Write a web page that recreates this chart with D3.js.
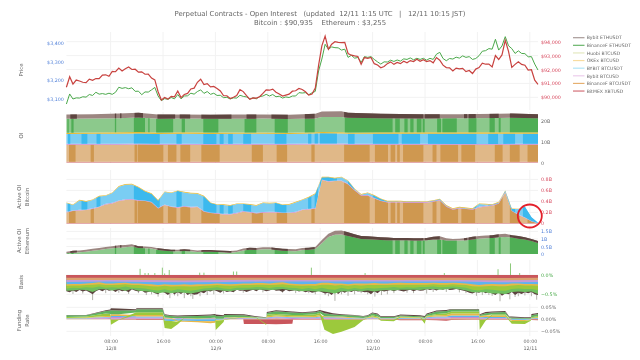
<!DOCTYPE html>
<html>
<head>
<meta charset="utf-8">
<script src="https://cdn.jsdelivr.net/npm/d3@7"></script>
<style>
  html, body { margin: 0; background: #fff; }
  svg { filter: blur(0.4px); }
  svg text { font-family: "DejaVu Sans", sans-serif; white-space: pre; }
</style>
</head>
<body>
<div id="chart"></div>
<script>
// ---- data. hour 0 = 12/8 01:15 JST, hour 72 = 12/11 01:15 JST ----

const legendNames = ["Bybit ETHUSDT", "BinanceF ETHUSDT", "Huobi BTCUSD", "OKEx BTCUSD",
    "BYBIT BTCUSDT", "Bybit BTCUSD", "BinanceF BTCUSDT", "BitMEX XBTUSD"];

const xTickHours = [6.75, 14.75, 22.75, 30.75, 38.75, 46.75, 54.75, 62.75, 70.75];
const xTickLabels = ["08:00", "16:00", "00:00", "08:00", "16:00", "00:00", "08:00", "16:00", "00:00"];
const xTickDates = ["12/8", "", "12/9", "", "", "12/10", "", "", "12/11"];

// half hourly
const btcPrice = [
    90720, 91480, 90950, 91240, 91170, 91080, 91050, 91310, 91220, 91350,
    91340, 91600, 91620, 91510, 91860, 91840, 92100, 91900, 92060, 92180,
    92000, 92020, 91810, 91830, 91660, 91670, 91380, 91250, 90400, 89800,
    89990, 89870, 90070, 90030, 90450, 89980, 90200, 90280, 90600, 90660,
    91080, 91300, 90920, 90980, 90750, 90780, 90640, 90460, 90110, 90110,
    89910, 90000, 90120, 90550, 90410, 90120, 89850, 89960, 89940, 90040,
    90280, 90540, 90510, 90590, 90370, 90240, 90090, 90160, 90230, 90440,
    90470, 90640, 90560, 90400, 90160, 90240, 90660, 92300, 93700, 94400,
    93460, 93820, 94000, 93950, 93930, 93950, 93150, 93030, 92980, 92940,
    92380, 92860, 92800, 92870, 92420, 92320, 92130, 92220, 92420, 92550,
    92370, 92510, 92420, 92600, 92480, 92640, 92570, 92740, 92590, 92700,
    92570, 92640, 92480, 92860, 92670, 92310, 92140, 92120, 91900, 92100,
    92040, 92080, 91850, 91930, 91710, 92030, 92140, 92450, 92380, 92390,
    92190, 93000, 92720, 93050, 94100, 93300, 92150, 92370, 92560, 92370,
    92310, 91950, 91980, 91230, 90935];

const ethPrice = [
    3073, 3127, 3100, 3106, 3105, 3112, 3110, 3124, 3119, 3136,
    3126, 3129, 3125, 3131, 3125, 3136, 3163, 3157, 3161, 3155,
    3160, 3141, 3142, 3123, 3138, 3137, 3149, 3162, 3116, 3091,
    3102, 3098, 3108, 3101, 3124, 3101, 3116, 3117, 3131, 3126,
    3140, 3149, 3130, 3140, 3125, 3131, 3119, 3120, 3107, 3109,
    3100, 3106, 3105, 3120, 3114, 3111, 3100, 3106, 3101, 3113,
    3116, 3125, 3116, 3124, 3112, 3115, 3105, 3111, 3108, 3116,
    3116, 3134, 3132, 3134, 3123, 3133, 3141, 3250, 3314, 3393,
    3367, 3379, 3375, 3374, 3362, 3367, 3323, 3334, 3319, 3322,
    3296, 3327, 3323, 3327, 3312, 3299, 3287, 3299, 3298, 3308,
    3301, 3309, 3303, 3315, 3312, 3320, 3310, 3318, 3312, 3318,
    3308, 3318, 3312, 3340, 3350, 3317, 3305, 3317, 3314, 3324,
    3319, 3331, 3323, 3327, 3312, 3317, 3332, 3356, 3359, 3370,
    3367, 3420, 3362, 3384, 3434, 3385, 3370, 3344, 3358, 3344,
    3343, 3326, 3327, 3287, 3255];

// open interest in billions, at these hours
const oiHours = [0, 4, 8, 11, 14, 18, 22, 26, 30, 34, 38, 39, 42, 43, 48, 54, 60, 66, 68, 72];
const oiBitmex = [.3, .3, .3, .3, .3, .3, .3, .3, .3, .3, .3, .3, .3, .3, .3, .3, .3, .3, .3, .3];
const oiBinanceBtc = [8.2, 8.2, 8.2, 8.3, 8.2, 8.2, 8.1, 8.2, 8.2, 8.2, 8.3, 8.3, 8.3, 8.2, 8.2, 8.2, 8.1, 8.1, 8.2, 8.2];
const oiBybitBtc = [.4, .4, .4, .4, .4, .4, .4, .4, .4, .4, .4, .4, .4, .4, .4, .4, .4, .4, .4, .4];
const oiBybitUsdt = [4.7, 4.8, 4.8, 4.8, 4.7, 4.8, 4.8, 4.8, 4.8, 4.7, 4.8, 4.9, 4.8, 4.8, 4.8, 4.8, 4.9, 4.9, 4.8, 4.8];
const oiOkex = [.6, .6, .7, .7, .7, .7, .7, .6, .6, .6, .6, .6, .6, .6, .7, .7, .7, .7, .7, .7];
const oiBinanceEth = [6.6, 6.6, 6.7, 6.9, 6.5, 6.5, 6.5, 6.5, 6.6, 6.5, 6.6, 7.2, 7.3, 7.0, 6.7, 6.6, 6.7, 6.8, 6.9, 6.7];
const oiBybitEth = [2.0, 2.1, 2.2, 2.3, 2.0, 2.0, 1.9, 2.0, 2.0, 2.0, 2.2, 2.6, 2.7, 2.4, 2.1, 2.0, 1.9, 2.0, 2.0, 1.9];

// stretches where each layer shows its darker shade
const darkBinanceBtc = [[.4, 1.4], [3.7, 4.2], [10.4, 10.8], [10.9, 14.8], [15.5, 16.8], [17.4, 18.9], [20.6, 23.4], [28.3, 30], [32.1, 33.7], [37.4, 37.9],
    [42.4, 46.3], [47.1, 49.1], [49.5, 50.2], [50.5, 50.9], [51.4, 54.5], [55.9, 56.5], [57.1, 59.8], [60.3, 62.4], [65.4, 66.6], [67.7, 69.2], [70.4, 72]];
const darkBybitUsdt = [[.25, .6], [2.3, 3.2], [4.6, 5.2], [10.3, 14.25], [16.8, 17.6], [20.9, 22.9], [23.4, 24], [24.7, 25.4], [27, 28.2], [31.8, 33.6], [36.9, 37.4], [37.9, 38.4],
    [38.7, 41.3], [43, 44], [46.8, 50.7], [51.2, 54], [55.2, 62.6], [64.4, 65.9], [66.7, 68.5], [69.7, 72]];
const darkBinanceEth = [[.15, .35], [.75, 1.1], [7.4, 7.6], [10.3, 12], [12.5, 12.7], [13.7, 16.3], [17.6, 18.1], [20.9, 23.2], [27.2, 29], [31.8, 33.8], [36.4, 37.9],
    [42.5, 49.8], [50.2, 50.9], [51.6, 52.1], [52.5, 53], [53.5, 54.2], [54.4, 54.7], [56.6, 57.2], [57.4, 59.6], [61.4, 62.6], [64.6, 65.4], [66, 66.3], [67.7, 72]];
const darkBybitEth = [[.6, 1.6], [7.4, 7.6], [8.2, 8.4], [10.4, 11.7], [13.9, 16.6], [17.3, 18.9], [20.6, 25.2], [27.5, 29], [31.3, 33.8], [36.4, 37.9],
    [42.4, 54.5], [54.7, 57], [60.7, 61.2], [61.4, 62.5], [64.6, 66], [67.7, 72]];

// active open interest, hourly, billions
const activeBtcBitmex = [
    .006, .006, .006, .006, .006, .006, .006, .006, .006, .006,
    .006, .006, .006, .006, .006, .006, .006, .006, .006, .006,
    .006, .006, .006, .006, .006, .006, .006, .006, .006, .006,
    .006, .006, .006, .006, .006, .006, .006, .006, .006, .006,
    .006, .006, .006, .006, .006, .006, .006, .006, .006, .006,
    .006, .006, .006, .006, .006, .006, .006, .006, .006, .006,
    .006, .006, .006, .006, .006, .006, .006, .006, .006, .006,
    .006, .006, .002];
const activeBtcBinance = [
    .194, .218, .230, .236, .254, .291, .339, .358, .400, .418,
    .424, .406, .400, .376, .267, .327, .291, .279, .297, .285,
    .291, .206, .182, .170, .158, .158, .176, .206, .194, .176,
    .188, .194, .194, .182, .182, .194, .236, .249, .261, .782,
    .752, .764, .764, .703, .594, .497, .497, .449, .400, .376,
    .376, .376, .370, .370, .370, .370, .388, .412, .297, .242,
    .267, .254, .242, .285, .303, .315, .352, .558, .218, .146,
    .097, .030, .002];
const activeBtcBybit = [
    .012, .012, .012, .012, .014, .012, .012, .012, .012, .014,
    .012, .012, .012, .012, .012, .012, .012, .012, .012, .012,
    .012, .012, .012, .012, .012, .012, .012, .012, .012, .012,
    .012, .012, .012, .012, .012, .012, .012, .012, .012, .012,
    .012, .012, .012, .012, .012, .012, .012, .012, .012, .012,
    .012, .012, .012, .012, .012, .012, .012, .012, .012, .012,
    .012, .012, .012, .012, .012, .012, .012, .012, .012, .012,
    .008, .006, .002];
const activeBtcBybitUsdt = [
    .158, .097, .170, .140, .150, .180, .145, .176, .250, .267,
    .267, .230, .164, .140, .127, .224, .242, .290, .248, .242,
    .230, .267, .170, .150, .158, .145, .158, .127, .127, .127,
    .164, .150, .158, .133, .140, .170, .170, .206, .255, .036,
    .067, .036, .055, .048, .012, .006, .036, .036, .024, .004,
    .004, .004, .004, .004, .004, .004, .004, .008, .008, .004,
    .004, .004, .004, .048, .024, .004, .012, .012, .024, .097,
    .190, .070, .004];
const activeBtcOkex = [
    .012, .012, .012, .012, .012, .012, .012, .012, .012, .012,
    .012, .012, .012, .012, .012, .012, .012, .012, .012, .012,
    .012, .012, .012, .012, .012, .012, .012, .012, .012, .012,
    .012, .012, .012, .012, .012, .012, .012, .012, .012, .012,
    .012, .012, .012, .012, .012, .012, .012, .012, .012, .012,
    .012, .012, .012, .012, .012, .012, .012, .012, .012, .012,
    .012, .012, .012, .012, .012, .012, .012, .012, .012, .004,
    .002, .002, .002];

const activeEthBinance = [
    .044, .090, .110, .155, .220, .270, .330, .380, .420, .440,
    .490, .400, .380, .360, .270, .220, .180, .180, .200, .180,
    .130, .155, .155, .130, .110, .090, .130, .240, .290, .270,
    .310, .310, .270, .220, .200, .180, .270, .290, .330, .710,
    1.13, 1.27, 1.29, 1.20, 1.09, 1.00, .980, .960, .930, .910,
    .910, .910, .910, .890, .890, .910, .960, .960, .890, .890,
    .890, .910, .960, 1.02, 1.04, 1.07, 1.11, 1.13, 1.09, 1.02,
    .960, .870, .730];
const activeEthBybit = [
    .11, .13, .13, .13, .13, .13, .13, .13, .155, .155,
    .155, .11, .11, .11, .11, .11, .11, .11, .11, .11,
    .11, .11, .11, .11, .11, .11, .11, .13, .13, .13,
    .13, .13, .13, .13, .13, .13, .13, .13, .13, .22,
    .22, .27, .27, .24, .22, .20, .20, .18, .18, .18,
    .155, .155, .155, .155, .155, .155, .18, .22, .155, .11,
    .13, .155, .18, .18, .18, .18, .20, .22, .155, .18,
    .155, .13, .13];

// basis: lower edge of each band in percent, painted deepest first
const basisRedHours = [0, 6, 12, 18, 24, 30, 36, 42, 48, 54, 60, 66, 72];
const basisRed = [-.07, -.07, -.07, -.08, -.07, -.07, -.07, -.07, -.07, -.07, -.07, -.08, -.07];
const basisTan = [-.13, -.13, -.13, -.14, -.13, -.12, -.13, -.13, -.13, -.13, -.13, -.14, -.13];
const basisPink = [-.18, -.17, -.18, -.19, -.18, -.17, -.17, -.17, -.17, -.17, -.17, -.19, -.18];
const basisBlue = [
    -.24, -.23, -.23, -.22, -.21, -.19, -.22, -.22, -.21, -.20,
    -.22, -.22, -.23, -.24, -.26, -.24, -.25, -.25, -.24, -.25,
    -.24, -.24, -.23, -.22, -.23, -.24, -.23, -.22, -.22, -.21,
    -.21, -.22, -.20, -.19, -.22, -.23, -.24, -.23, -.23, -.20,
    -.20, -.22, -.22, -.24, -.22, -.22, -.22, -.21, -.22, -.22,
    -.21, -.20, -.21, -.21, -.21, -.21, -.20, -.21, -.21, -.20,
    -.21, -.22, -.24, -.26, -.24, -.23, -.24, -.24, -.22, -.22,
    -.23, -.23, -.24];
const basisYellow = [
    -.28, -.27, -.27, -.26, -.25, -.24, -.26, -.26, -.25, -.24,
    -.26, -.26, -.27, -.29, -.30, -.28, -.30, -.29, -.29, -.30,
    -.29, -.28, -.27, -.26, -.27, -.28, -.27, -.26, -.26, -.25,
    -.25, -.26, -.25, -.24, -.26, -.27, -.28, -.27, -.28, -.25,
    -.25, -.27, -.26, -.28, -.26, -.27, -.26, -.26, -.26, -.26,
    -.25, -.25, -.25, -.25, -.25, -.25, -.24, -.25, -.25, -.24,
    -.25, -.26, -.29, -.30, -.29, -.28, -.29, -.29, -.27, -.26,
    -.27, -.27, -.28];
const basisOlive = [
    -.35, -.33, -.34, -.32, -.33, -.30, -.33, -.32, -.33, -.30,
    -.33, -.34, -.35, -.38, -.40, -.37, -.41, -.37, -.39, -.41,
    -.38, -.35, -.34, -.32, -.35, -.36, -.33, -.33, -.33, -.31,
    -.32, -.34, -.31, -.31, -.33, -.34, -.36, -.34, -.37, -.33,
    -.37, -.38, -.33, -.37, -.34, -.36, -.34, -.35, -.34, -.33,
    -.31, -.33, -.32, -.33, -.31, -.31, -.30, -.32, -.31, -.30,
    -.31, -.33, -.38, -.40, -.37, -.38, -.40, -.41, -.36, -.35,
    -.36, -.36, -.39];
const basisGreen = [
    -.41, -.40, -.38, -.39, -.44, -.37, -.37, -.40, -.37, -.41,
    -.36, -.41, -.42, -.44, -.47, -.45, -.47, -.45, -.46, -.48,
    -.45, -.41, -.40, -.39, -.41, -.42, -.39, -.39, -.38, -.38,
    -.38, -.39, -.38, -.36, -.39, -.40, -.42, -.41, -.43, -.43,
    -.45, -.48, -.42, -.43, -.40, -.42, -.40, -.43, -.40, -.39,
    -.40, -.38, -.38, -.38, -.39, -.37, -.36, -.38, -.37, -.35,
    -.37, -.40, -.45, -.45, -.45, -.48, -.48, -.49, -.44, -.43,
    -.44, -.43, -.49];
// half hourly
const basisBrown = [
    -.42, -.45, -.40, -.44, -.39, -.43, -.40, -.45, -.50, -.42,
    -.38, -.42, -.37, -.41, -.39, -.44, -.38, -.42, -.40, -.45,
    -.37, -.41, -.43, -.40, -.46, -.44, -.42, -.47, -.50, -.43,
    -.46, -.52, -.44, -.50, -.45, -.49, -.43, -.52, -.47, -.51,
    -.50, -.44, -.47, -.41, -.43, -.39, -.42, -.46, -.40, -.44,
    -.42, -.45, -.38, -.41, -.40, -.44, -.41, -.38, -.42, -.37,
    -.39, -.42, -.40, -.37, -.41, -.40, -.44, -.38, -.42, -.41,
    -.39, -.43, -.41, -.45, -.42, -.46, -.44, -.41, -.45, -.48,
    -.46, -.52, -.43, -.49, -.42, -.46, -.41, -.44, -.40, -.43,
    -.42, -.45, -.44, -.50, -.42, -.47, -.40, -.43, -.41, -.39,
    -.42, -.39, -.41, -.43, -.40, -.38, -.42, -.39, -.41, -.40,
    -.36, -.39, -.37, -.40, -.36, -.38, -.35, -.39, -.38, -.36,
    -.38, -.40, -.42, -.46, -.48, -.44, -.46, -.42, -.47, -.44,
    -.48, -.52, -.45, -.54, -.48, -.50, -.44, -.52, -.46, -.49,
    -.45, -.47, -.44, -.50, -.52];
const basisDipHours = [1, 2.5, 4, 6, 8, 9.5, 11, 12.2, 13, 14, 15.8, 16.5, 17, 18, 19, 19.3, 20.4, 21.5, 22.5, 24, 27, 30, 33, 35,
    37, 38, 39.5, 40, 41, 42, 43, 44, 45, 46, 47.1, 48.1, 49, 50, 52, 53, 55, 56, 58, 60, 61, 62.6, 63.5, 64.5, 65, 66.2, 67.7, 68.5, 69, 70, 71, 71.8];
const basisDips = [-.49, -.48, -.65, -.47, -.46, -.49, -.47, -.52, -.50, -.56, -.60, -.53, -.55, -.60, -.55, -.62, -.55, -.52, -.50, -.48, -.46, -.45, -.46, -.47,
    -.47, -.50, -.52, -.55, -.67, -.50, -.54, -.50, -.47, -.50, -.56, -.52, -.50, -.47, -.46, -.47, -.48, -.44, -.44, -.45, -.47, -.54, -.52, -.52, -.54, -.68, -.63, -.57, -.55, -.53, -.55, -.64];
const basisSpikeHours = [11.25, 12, 12.5, 13.5, 14.65, 15, 15.7, 20.35, 21, 25.5, 26, 37.4, 45.6, 57.7, 65.9, 67.8, 69.2];
const basisSpikes = [.16, .05, .05, .05, .19, .04, .13, .06, .06, .09, .09, .19, .05, .05, .15, .30, .05];

// funding rate, in steps of fundingStep percent
const fundingStep = 0.0014;
const fundingHours = [0, 3, 4, 6, 6.7, 6.8, 8, 10.6, 10.7, 14.7, 15, 16, 17, 18, 20, 22, 22.7, 22.8, 24, 24.1,
    27, 27.1, 29, 30.5, 30.6, 32, 34.5, 34.6, 36, 38, 38.7, 39.4, 40.7, 42, 44, 45.3, 46, 46.7, 47.5, 48,
    50, 51, 54, 54.7, 55, 56.5, 58, 58.8, 62, 63, 63.1, 64, 65, 67, 67.6, 68, 70, 70.9, 71, 72];
const fundingBitmex = [0, 0, 0, 0, 0, -1, -1, -1, -2, -2, 0, 0, 0, 0, 0, 0, 0, 0, 0, 0,
    0, -14, -14, -14, -14, -15, -13, -1, -1, -1, -1, -1, -1, -1, -1, -1, 0, 0, 0, -1,
    -1, -3, -3, -3, -2, -3, -4, -2, -1, -1, -1, -1, -1, -1, -1, 0, 0, 0, -2, -3];
const fundingBinanceBtc = [1, 1, 2, 2, 1, 2, 2, 2, 2, 2, 1, 1, 1, 1, 1, 1, 1, 1, 1, 1,
    1, 1, 1, 1, 1, 3, 1, 1, 2, 2, 2, 2, 2, 1, 1, 1, 1, 2, 1, 1,
    1, 1, 1, 1, 2, 2, 2, 3, 3, 3, 1, 2, 2, 2, 1, 1, 1, 1, 1, 1];
const fundingBybitBtc = [1, 1, 2, 3, 3, 5, 5, 4, 3, 3, 2, 1, 2, 2, 1, 2, 2, 1, 1, 2,
    2, 2, 1, 1, 2, 3, 3, 3, 2, 2, 3, 2, 2, 2, 1, 1, 1, 2, 1, 1,
    1, 1, 1, 1, 2, 3, 3, 4, 4, 4, 2, 2, 2, 2, 1, 1, 1, 1, 1, 1];
const fundingBybitUsdt = [1, 1, 1, 2, 2, 3, 3, 3, 3, 3, -4, -5, -4, -4, -5, -6, -5, -2, -1, 1,
    1, 1, 1, 1, 2, 2, 2, 2, 2, 2, 3, 2, 2, 2, 1, 1, 1, 2, 1, 1,
    1, 2, 1, 1, 2, 3, 3, 4, 4, 4, 3, 3, 3, 3, 1, -2, -2, -1, 1, 2];
const fundingOkex = [1, 2, 2, 3, 4, 5, 5, 4, 5, 5, 2, 2, -3, -3, -4, -6, -5, -2, -1, 1,
    1, 1, 1, 1, 4, 3, 3, 3, 3, 4, 5, 3, 2, 3, 2, 1, 2, 2, 2, 1,
    1, 2, 2, 1, 2, 4, 5, 6, 6, 6, 4, 5, 4, 4, 1, -3, -3, -1, 1, 2];
const fundingHuobi = [3, 3, 4, 7, 6, -15, -1, 7, 8, 8, -22, -24, -8, 1, 2, 1, 2, -28, -6, -1,
    2, 2, 1, -3, 5, 5, 4, 4, 4, 5, 6, -30, -43, -36, -22, -2, 1, 4, 3, -3,
    -5, 2, 1, -10, 2, 4, 5, 6, 6, 6, -30, -3, 3, 4, -3, -8, -9, -2, 2, 4];
const fundingBinanceEth = [5, 4, 5, 8, 10, 12, 11, 7, 9, 9, 8, 6, 5, 5, 6, 7, 8, 8, 7, 8,
    5, 5, 2, 1, 5, 8, 7, 7, 6, 6, 6, 9, 6, 5, 6, 4, 4, 6, 6, 3,
    3, 3, 3, 3, 4, 7, 7, 6, 6, 6, 3, 6, 6, 7, 2, 3, 2, 2, 6, 6];
const fundingBybitEth = [1, 1, 1, 2, 3, 6, 6, 3, 3, 3, 2, 2, 3, 3, 3, 3, 3, 4, 3, 3,
    3, 3, 2, 1, 3, 3, 3, 3, 2, 3, 3, 6, 4, 2, 2, 2, 2, 2, 3, 2,
    2, 3, 3, 3, 3, 3, 3, 2, 2, 2, 2, 4, 3, 3, 2, 3, 2, 2, 4, 3];

// ---- colours ----
const colors = {
    bitmex: "#c9565c", tan: "#e0b888", tanDark: "#cf9850", pink: "#c98ad6",
    blue: "#7acdf3", blueDark: "#3cb9ee", yellow: "#e8b92f", olive: "#9cc93c",
    green: "#8cc98c", greenDark: "#4fae55", brown: "#9c8681", brownDark: "#5d4540",
    grid: "#f2f2f2", text: "#666", ethTick: "#4f7fd8", btcTick: "#d6455a", basisTick: "#45a845"
};
const legendColors = ["#a89a98", "#69b56a", "#e4e8c0", "#f8dca0", "#b0e4f8", "#eccdec", "#e6b070", "#d47078"];

const width = 640, height = 360;
const svg = d3.select("#chart").append("svg").attr("width", width).attr("height", height);

const x = d3.scaleLinear().domain([0, 72]).range([66.4, 538]);

// y scales, one per panel
const yEth = d3.scaleLinear().domain([3100, 3400]).range([99, 43]);
const yBtc = d3.scaleLinear().domain([90000, 94000]).range([97.3, 41.7]);
const yOi = d3.scaleLinear().domain([0, 20]).range([162.5, 120.5]);
const yActiveBtc = d3.scaleLinear().domain([0, 0.8]).range([223.4, 179.4]);
const yActiveEth = d3.scaleLinear().domain([0, 1.5]).range([254, 231.4]);
const yBasis = d3.scaleLinear().domain([-0.5, 0]).range([294.3, 275]);
const yFunding = d3.scaleLinear().domain([-0.05, 0.05]).range([331.3, 307.3]);

const panels = [
    {top: 32, bottom: 110, scale: yBtc, ticks: [90000, 91000, 92000, 93000, 94000]},
    {top: 112, bottom: 163, scale: yOi, ticks: []},
    {top: 170, bottom: 224, scale: yActiveBtc, ticks: [0.2, 0.4, 0.6, 0.8]},
    {top: 228, bottom: 254, scale: yActiveEth, ticks: [0.5, 1, 1.5]},
    {top: 260, bottom: 300, scale: yBasis, ticks: [-0.5, 0]},
    {top: 304, bottom: 336, scale: yFunding, ticks: [-0.05, 0, 0.05]}
];

// grid
panels.forEach(p => {
    svg.append("g").selectAll("line").data(xTickHours).join("line")
        .attr("x1", d => x(d)).attr("x2", d => x(d))
        .attr("y1", p.top).attr("y2", p.bottom)
        .attr("stroke", colors.grid).attr("stroke-width", 1);
    svg.append("g").selectAll("line").data(p.ticks).join("line")
        .attr("x1", x(0)).attr("x2", x(72))
        .attr("y1", d => p.scale(d)).attr("y2", d => p.scale(d))
        .attr("stroke", colors.grid).attr("stroke-width", 1);
});

// clip paths for the darker shades
function darkClip(id, bands, top, bottom) {
    svg.append("clipPath").attr("id", id).selectAll("rect").data(bands).join("rect")
        .attr("x", d => x(d[0])).attr("width", d => x(d[1]) - x(d[0]))
        .attr("y", top).attr("height", bottom - top);
}
darkClip("dark-tan", darkBinanceBtc, 100, 260);
darkClip("dark-blue", darkBybitUsdt, 100, 260);
darkClip("dark-green", darkBinanceEth, 100, 260);
darkClip("dark-brown", darkBybitEth, 100, 260);

// draw a stack of layers over the hours given, each with a flat and optionally a dark shade
function drawStack(hours, layers, yScale, step) {
    const rows = hours.map((h, i) => {
        const row = {hour: h};
        layers.forEach(l => row[l.key] = l.values[i] * (step || 1));
        return row;
    });
    const stack = d3.stack().keys(layers.map(l => l.key)).offset(d3.stackOffsetDiverging)(rows);
    const area = d3.area().x(d => x(d.data.hour)).y0(d => yScale(d[0])).y1(d => yScale(d[1]));
    stack.forEach((s, i) => {
        svg.append("path").attr("d", area(s)).attr("fill", layers[i].color);
        if (layers[i].dark) {
            svg.append("path").attr("d", area(s)).attr("fill", layers[i].dark)
                .attr("clip-path", `url(#${layers[i].clip})`);
        }
    });
}

drawStack(oiHours, [
    {key: "bitmex", values: oiBitmex, color: colors.bitmex},
    {key: "binanceBtc", values: oiBinanceBtc, color: colors.tan, dark: colors.tanDark, clip: "dark-tan"},
    {key: "bybitBtc", values: oiBybitBtc, color: colors.pink},
    {key: "bybitUsdt", values: oiBybitUsdt, color: colors.blue, dark: colors.blueDark, clip: "dark-blue"},
    {key: "okex", values: oiOkex, color: colors.yellow},
    {key: "binanceEth", values: oiBinanceEth, color: colors.green, dark: colors.greenDark, clip: "dark-green"},
    {key: "bybitEth", values: oiBybitEth, color: colors.brown, dark: colors.brownDark, clip: "dark-brown"}
], yOi);

const hourly = d3.range(0, 73);
drawStack(hourly, [
    {key: "bitmex", values: activeBtcBitmex, color: colors.bitmex},
    {key: "binanceBtc", values: activeBtcBinance, color: colors.tan, dark: colors.tanDark, clip: "dark-tan"},
    {key: "bybitBtc", values: activeBtcBybit, color: colors.pink},
    {key: "bybitUsdt", values: activeBtcBybitUsdt, color: colors.blue, dark: colors.blueDark, clip: "dark-blue"},
    {key: "okex", values: activeBtcOkex, color: colors.yellow}
], yActiveBtc);

drawStack(hourly, [
    {key: "binanceEth", values: activeEthBinance, color: colors.green, dark: colors.greenDark, clip: "dark-green"},
    {key: "bybitEth", values: activeEthBybit, color: colors.brown, dark: colors.brownDark, clip: "dark-brown"}
], yActiveEth);

// basis bands
function basisBand(hours, values, color) {
    const area = d3.area().x((d, i) => x(hours[i])).y0(yBasis(0)).y1(d => yBasis(d));
    svg.append("path").attr("d", area(values)).attr("fill", color);
}
const halfHourly = d3.range(0, 72.5, 0.5);

svg.append("g").selectAll("line").data(basisDips).join("line")
    .attr("x1", (d, i) => x(basisDipHours[i])).attr("x2", (d, i) => x(basisDipHours[i]))
    .attr("y1", yBasis(-0.35)).attr("y2", d => yBasis(d))
    .attr("stroke", "#a9a9a0").attr("stroke-width", 0.9);
svg.append("g").selectAll("line").data(basisSpikes).join("line")
    .attr("x1", (d, i) => x(basisSpikeHours[i])).attr("x2", (d, i) => x(basisSpikeHours[i]))
    .attr("y1", yBasis(0)).attr("y2", d => yBasis(d))
    .attr("stroke", "#8cc97a").attr("stroke-width", 1);

basisBand(halfHourly, basisBrown, colors.brownDark);
basisBand(hourly, basisGreen, "#6fbf5f");
basisBand(hourly, basisOlive, colors.olive);
basisBand(hourly, basisYellow, "#e8b84a");
basisBand(hourly, basisBlue, "#5fb4ef");
basisBand(basisRedHours, basisPink, "#c59ad8");
basisBand(basisRedHours, basisTan, "#dba070");
basisBand(basisRedHours, basisRed, colors.bitmex);

drawStack(fundingHours, [
    {key: "bitmex", values: fundingBitmex, color: colors.bitmex},
    {key: "binanceBtc", values: fundingBinanceBtc, color: "#dba070"},
    {key: "bybitBtc", values: fundingBybitBtc, color: "#c98ad6"},
    {key: "bybitUsdt", values: fundingBybitUsdt, color: "#5fb4ef"},
    {key: "okex", values: fundingOkex, color: "#e8b84a"},
    {key: "huobi", values: fundingHuobi, color: colors.olive},
    {key: "binanceEth", values: fundingBinanceEth, color: "#5fb35f"},
    {key: "bybitEth", values: fundingBybitEth, color: colors.brownDark}
], yFunding, fundingStep);

// price lines
const priceLine = yScale => d3.line().x((d, i) => x(halfHourly[i])).y(d => yScale(d));
svg.append("path").attr("d", priceLine(yEth)(ethPrice))
    .attr("fill", "none").attr("stroke", "#4aa84a").attr("stroke-width", 1);
svg.append("path").attr("d", priceLine(yBtc)(btcPrice))
    .attr("fill", "none").attr("stroke", "#c8423f").attr("stroke-width", 1.2);

// y axes
function styleAxis(g, color) {
    g.select(".domain").remove();
    g.selectAll("text").attr("fill", color).attr("font-size", 4.8).style("font-family", "DejaVu Sans");
}
const usd = d3.format("$,");
svg.append("g").attr("transform", `translate(${x(0)},0)`)
    .call(d3.axisLeft(yEth).tickValues([3100, 3200, 3300, 3400]).tickFormat(usd).tickSize(0).tickPadding(2.5))
    .call(styleAxis, colors.ethTick);
svg.append("g").attr("transform", `translate(${x(72)},0)`)
    .call(d3.axisRight(yBtc).tickValues([90000, 91000, 92000, 93000, 94000]).tickFormat(usd).tickSize(0).tickPadding(3))
    .call(styleAxis, colors.btcTick);

const billions = d => d === 0 ? "0" : d + "B";
svg.append("g").attr("transform", `translate(${x(72)},0)`)
    .call(d3.axisRight(yOi).tickValues([0, 10, 20]).tickFormat(billions).tickSize(0).tickPadding(3))
    .call(styleAxis, colors.text);
svg.append("g").attr("transform", `translate(${x(72)},0)`)
    .call(d3.axisRight(yActiveBtc).tickValues([0, 0.2, 0.4, 0.6, 0.8]).tickFormat(billions).tickSize(0).tickPadding(3))
    .call(styleAxis, colors.btcTick);
svg.append("g").attr("transform", `translate(${x(72)},0)`)
    .call(d3.axisRight(yActiveEth).tickValues([0, 0.5, 1, 1.5]).tickFormat(billions).tickSize(0).tickPadding(3))
    .call(styleAxis, colors.ethTick);
svg.append("g").attr("transform", `translate(${x(72)},0)`)
    .call(d3.axisRight(yBasis).tickValues([-0.5, 0]).tickFormat(d => d === 0 ? "0.0%" : "\u22120.5%").tickSize(0).tickPadding(3))
    .call(styleAxis, colors.basisTick);
svg.append("g").attr("transform", `translate(${x(72)},0)`)
    .call(d3.axisRight(yFunding).tickValues([-0.05, 0, 0.05]).tickFormat(d => (d < 0 ? "\u2212" : "") + Math.abs(d).toFixed(2) + "%").tickSize(0).tickPadding(3))
    .call(styleAxis, colors.text);

// x axis, time on the first line and date on the second
const xAxis = svg.append("g").attr("transform", "translate(0,336)")
    .call(d3.axisBottom(x).tickValues(xTickHours).tickFormat((d, i) => xTickLabels[i]).tickSize(0).tickPadding(3.5))
    .call(styleAxis, colors.text);
xAxis.selectAll(".tick").append("text")
    .attr("y", 13.8).attr("text-anchor", "middle").attr("fill", colors.text).attr("font-size", 4.8)
    .text((d, i) => xTickDates[i]);

// red circle around the last stretch of active OI
svg.append("ellipse")
    .attr("cx", x(70.75)).attr("cy", yActiveBtc(0.135))
    .attr("rx", 12).attr("ry", 11.5)
    .attr("fill", "none").attr("stroke", "#e3202b").attr("stroke-width", 1.8);

// titles
svg.append("text").attr("x", 320).attr("y", 15.7).attr("text-anchor", "middle")
    .attr("fill", colors.text).attr("font-size", 6.9)
    .text("Perpetual Contracts - Open Interest   (updated  12/11 1:15 UTC   |   12/11 10:15 JST)");
svg.append("text").attr("x", 320).attr("y", 24.7).attr("text-anchor", "middle")
    .attr("fill", colors.text).attr("font-size", 6.9)
    .text("Bitcoin : $90,935    Ethereum : $3,255");

// panel labels
function panelLabel(lines, cy) {
    const t = svg.append("text").attr("transform", `translate(${lines.length > 1 ? 19 : 20.5},${cy}) rotate(-90)`)
        .attr("text-anchor", "middle").attr("fill", colors.text).attr("font-size", 5.4);
    lines.forEach((line, i) => t.append("tspan").attr("x", 0).attr("y", i * 7.7 + 2).text(line));
}
panelLabel(["Price"], 70);
panelLabel(["OI"], 135.5);
panelLabel(["Active OI", "Bitcoin"], 197);
panelLabel(["Active OI", "Ethereum"], 241);
panelLabel(["Basis"], 282);
panelLabel(["Funding", "Rate"], 320.5);

// legend
const legend = svg.append("g").selectAll("g").data(legendNames).join("g")
    .attr("transform", (d, i) => `translate(573,${37.7 + i * 7.62})`);
legend.append("line").attr("x1", 0).attr("x2", 11.5)
    .attr("stroke", (d, i) => legendColors[i]).attr("stroke-width", 1.2);
legend.append("text").attr("x", 13.7).attr("y", 1.7)
    .attr("fill", colors.text).attr("font-size", 4.6).text(d => d);
</script>
</body>
</html>
